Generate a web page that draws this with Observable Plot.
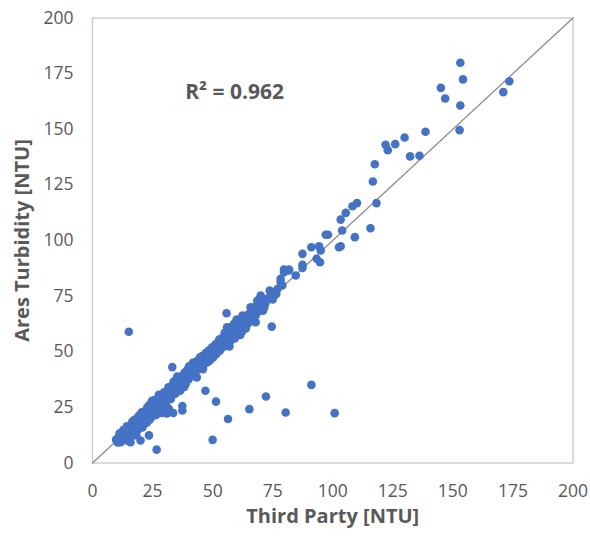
<!DOCTYPE html>
<html>
<head>
<meta charset="utf-8">
<script src="https://cdn.jsdelivr.net/npm/d3@7"></script>
<script src="https://cdn.jsdelivr.net/npm/@observablehq/plot@0.6"></script>
<style>
  html, body { margin: 0; padding: 0; background: #fff; }
  #chart { width: 590px; height: 536px; }
</style>
</head>
<body>
<div id="chart"></div>
<script>
// Third Party [NTU] (x) and Ares Turbidity [NTU] (y)
const thirdParty = [
  9.8,10.5,11,11.7,12,12.5,13,13.3,14,14,14.6,15,15.2,15.8,16,16.3,16.8,17,17.4,17.8,
  18,18.4,18.9,19,19.5,20,20,20.3,20.8,21,21.4,22,22.2,22.6,23,23.3,23.5,23.8,24,24.3,
  24.8,25,25.2,25.6,26,26.2,26.7,26.8,27,27.5,27.8,28,28.4,28.8,29,29.3,29.6,30,30.4,30.8,
  31,31.4,31.8,32,32.3,32.8,33.2,33.3,33.6,34,34.4,34.8,35,35.5,36,36.3,36.8,37.2,37.4,37.4,
  37.6,38,38.5,38.8,39.2,39.6,40,40.4,40.8,41.2,41.6,42,42.4,42.8,43.2,43.6,44,44.5,45,45.4,
  45.8,46.2,46.7,47,47.2,47.6,48,48.5,49,49.4,49.8,50,50.3,50.8,51.2,51.4,51.6,52,52.5,53,
  53.4,53.8,54.3,54.8,55.2,55.8,55.8,56.3,56.4,56.8,57.3,57.5,58,58.5,58.9,59.2,59.8,60.3,60.8,61.2,
  61.7,62.2,62.4,62.8,63.3,63.8,64.5,64.8,65.3,65.8,65.8,66.2,66.5,67,67.9,67.9,68,68.6,69,69.5,
  70,70.7,71,71.5,72,72.2,72.8,73.75,74,74.6,75,76,76.5,77,78.3,78.3,79,79.7,79.7,80.4,
  81.8,81.8,84.6,87.4,87.4,87.4,91.1,91.1,93.3,94.3,94.7,95,97.1,98,100.8,102.6,103.3,103.3,103.9,105.4,
  108.2,109.2,110.1,115.7,116.7,117.5,118.2,122,122.9,126,129.9,132.2,136.1,138.6,145,146.8,152.8,153.1,153.1,154.2,
  171,173.5,15.1,
  13.5,18.6,21.8,24.6,27.2,33.8,39.8,44.8,49.6,53.6,57.8,62,66.8,
  11.2,12.8,14.3,15.5,16.6,17.6,18.2,19.2,20.5,21.6,22.8,23.6,24.4,25.8,26.5,27.6,28.6,29.8,30.6,31.6,
  32.6,34.2,35.2,36.5,38.2,40.2,41.8,43.4,46,48.2,50.6,52.8,55,57,59.5,61.5,63.5,65,60,56
];
const aresTurbidity = [
  10.5,9.2,11.5,9.3,12.5,10.8,13.8,11.5,14.5,12.2,10,15.6,13.4,9.3,16.4,14.5,12.3,17.8,15.6,13.5,
  18.4,16.8,14.8,19.6,17.6,20.8,10.1,18.2,16,21.5,19.6,22.6,20.4,18.1,23.8,21.4,12.4,19.5,24.6,22.5,
  28,25.5,23.2,21.5,26.8,24.4,6,22.3,27.5,25.8,29.5,23,28.2,26.5,22.5,30,27.8,24.5,31,28.9,
  22.3,32.5,24.4,30,33.5,31.6,43.1,35,22.5,33.8,36,31.5,37.2,35.6,33.2,38.5,36.8,34.6,25.6,23.6,
  39.5,37.5,40.8,35.5,39.2,42,37.6,40.6,43.2,39,42.2,44.5,40.5,43.2,45.6,41.8,44.6,46.8,43,45.6,
  48.2,44,47,32.5,49.5,45.2,48,50.6,46.3,49.2,52,10.4,47.6,50.6,53.4,27.6,49,52,54.8,50.5,
  53.4,56,52,55,57.4,67.3,53.5,56.4,19.8,58.8,54.6,61,57.5,60.2,62.6,56,59,61.5,57.5,60.5,
  63.3,59,66.3,62,64.5,60.5,65.5,62.8,24.2,67.8,70,64,68.5,66,66.3,63.3,70.5,73,68,70.5,
  75.3,72.7,68.5,70,71.8,29.9,73.8,77.5,74.8,61.3,73.5,75.5,76,78.2,82.8,81.3,79.8,85.8,87,22.7,
  86.5,87,84.3,87.7,89.1,94,97,35.1,91.8,97.4,90.2,95.5,102.6,102.6,22.4,97,97.4,109.4,104.5,112.4,
  115.4,101.5,116.8,105.5,126.5,134.3,116.8,143,140.6,143.3,146.3,137.8,138.1,148.9,168.6,163.8,149.6,179.9,160.7,172.4,
  166.7,171.6,59,
  12,17.2,23.4,26,29,36.6,41,47.5,51.2,55.6,59.6,64,67.2,
  13.2,14.8,16.5,11.4,18.6,19.5,12.5,21.2,22.8,18.6,25,26,20.6,28.2,21.6,30.6,25,31.8,26.8,34,
  28.8,31,38.8,32.5,34.2,43.5,45,38.5,42.2,45.5,48.5,55.5,58.5,52.4,62.5,57.6,62.6,67,64.5,61
];
const xTicks = [0, 25, 50, 75, 100, 125, 150, 175, 200];
const yTicks = [0, 25, 50, 75, 100, 125, 150, 175, 200];
const identityEnds = [0, 200];
const xLabel = "Third Party [NTU]";
const yLabel = "Ares Turbidity [NTU]";
const r2Label = "R² = 0.962";
const r2Pos = [{x: 38.6, y: 166.5}];

const points = thirdParty.map((v, i) => ({x: v, y: aresTurbidity[i]}));
const diag = identityEnds.map(v => ({x: v, y: v}));

const chart = Plot.plot({
  width: 590,
  height: 536,
  marginLeft: 92,
  marginRight: 17.5,
  marginTop: 17.5,
  marginBottom: 73.5,
  style: {fontFamily: "'Open Sans', sans-serif", fontSize: "17px", color: "#595959", background: "#fff"},
  x: {domain: [0, 200]},
  y: {domain: [0, 200]},
  marks: [
    Plot.frame({stroke: "#c8c8c8", strokeWidth: 1.3}),
    Plot.line(diag, {x: "x", y: "y", stroke: "#8c8c8c", strokeWidth: 1.3}),
    Plot.dot(points, {x: "x", y: "y", r: 4.3, fill: "#4472C4", stroke: "none"}),
    Plot.axisX({ticks: xTicks, tickSize: 0, tickPadding: 22, label: null, fill: "#595959", fontSize: 17.5}),
    Plot.axisY({ticks: yTicks, tickSize: 0, tickPadding: 19, label: null, fill: "#595959", fontSize: 17.5}),
    Plot.text(r2Pos, {x: "x", y: "y", text: () => r2Label, textAnchor: "start", fontSize: 21, fontWeight: "bold", fill: "#595959"}),
    Plot.text([xLabel], {frameAnchor: "bottom", dy: 60, text: d => d, fontSize: 20, fontWeight: "bold", fill: "#595959"}),
    Plot.text([yLabel], {frameAnchor: "left", dx: -70, rotate: -90, textAnchor: "middle", text: d => d, fontSize: 20, fontWeight: "bold", fill: "#595959"})
  ]
});
document.getElementById("chart").appendChild(chart);
</script>
</body>
</html>
